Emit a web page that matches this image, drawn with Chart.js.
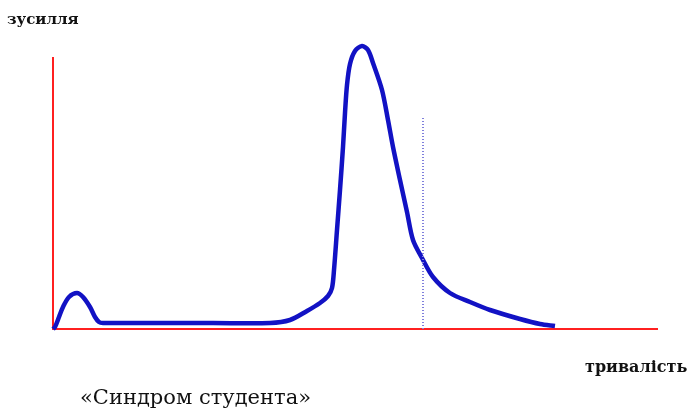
<!DOCTYPE html>
<html>
<head>
<meta charset="utf-8">
<script src="https://cdn.jsdelivr.net/npm/chart.js@4/dist/chart.umd.min.js"></script>
<style>
body{margin:0;background:#fff;}
#wrap{position:relative;width:694px;height:414px;overflow:hidden;}
canvas{position:absolute;left:0;top:0;}
.lbl{position:absolute;font-family:"DejaVu Serif","Liberation Serif",serif;color:#111;white-space:nowrap;line-height:1;}
</style>
</head>
<body>
<div id="wrap">
<canvas id="grafico" width="694" height="414"></canvas>
<div class="lbl" style="left:7px;top:12px;font-size:15px;font-weight:bold;">зусилля</div>
<div class="lbl" style="left:585px;top:359px;font-size:16px;font-weight:bold;">тривалість</div>
<div class="lbl" style="left:80px;top:387px;font-size:21px;">«Синдром студента»</div>
</div>
<script>
// крива зусилля (умовні одиниці)
const tempo = [0, 2, 6, 10, 16, 24, 30, 37, 42, 46, 50, 100, 160, 217, 237, 254, 267, 275, 279, 281, 284, 287, 290, 292, 294, 297, 302, 309, 315, 320, 329, 335, 340, 347, 354, 360, 369, 380, 397, 417, 437, 467, 487, 502];
const esforco = [0, 2, 12, 22, 32, 36, 32, 22, 12, 7, 6, 6, 6, 6, 9, 18, 26, 33, 41, 59, 99, 139, 182, 216, 244, 265, 278, 283, 279, 266, 239, 209, 182, 149, 117, 89, 71, 52, 36, 27, 19, 10, 5, 3];

// linha pontilhada (prazo)
const prazoX = [370, 370];
const prazoY = [0, 211];

const pontos = tempo.map((t, i) => ({x: t, y: esforco[i]}));
const pontosPrazo = prazoX.map((t, i) => ({x: t, y: prazoY[i]}));

const ctx = document.getElementById("grafico");

new Chart(ctx, {
    type: "line",
    data: {
        datasets: [{
            data: pontosPrazo,
            borderColor: "#8080dc",
            borderWidth: 2,
            borderDash: [1, 2],
            pointRadius: 0
        }, {
            data: pontos,
            borderColor: "#1212c4",
            borderWidth: 4.5,
            pointRadius: 0,
            clip: false,
            tension: 0.3
        }]
    },
    options: {
        responsive: false,
        animation: false,
        layout: {padding: {left: 53, top: 58, right: 37, bottom: 85}},
        plugins: {legend: {display: false}, tooltip: {enabled: false}},
        scales: {
            x: {
                type: "linear", min: 0, max: 604,
                grid: {display: false, drawTicks: false},
                ticks: {display: false},
                border: {display: true, color: "#ff2020", width: 2}
            },
            y: {
                min: 0, max: 271,
                grid: {display: false, drawTicks: false},
                ticks: {display: false},
                border: {display: true, color: "#ff2020", width: 2}
            }
        }
    }
});
</script>
</body>
</html>
